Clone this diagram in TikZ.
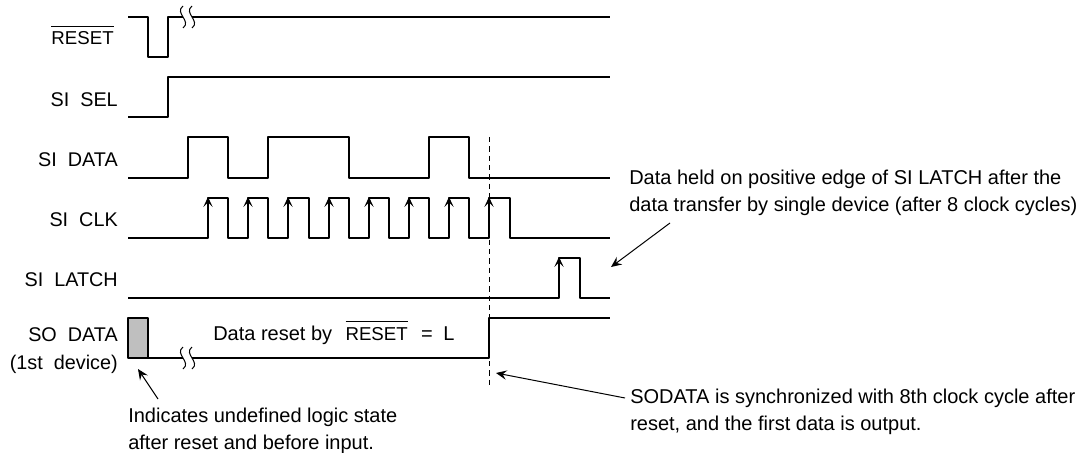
\documentclass[tikz,border=0pt]{standalone}
\usepackage{fontspec}
\setmainfont{Liberation Sans}
\usetikzlibrary{positioning, arrows.meta}
\newcommand{\resetbar}{$\overline{\mbox{\fontsize{14}{14}\selectfont\rule{0pt}{13pt}RESET}}$}
\tikzset{
x=0.75pt, y=-0.75pt,
wave/.style={line width=1.5pt, line join=round},
edge/.style={line width=1.5pt, -{Stealth[length=7.5pt, width=7pt, inset=3.5pt]}},
pointer/.style={line width=0.75pt, -{Stealth[length=8pt, width=7pt, inset=3pt]}},
breakmark/.style={line width=0.75pt},
label/.style={anchor=east, font=\fontsize{14.85}{21}\selectfont, inner sep=0pt, align=right},
note/.style={anchor=west, font=\fontsize{15}{20.5}\selectfont, inner sep=0pt, align=left},
}
\begin{document}
\begin{tikzpicture}
    \useasboundingbox (0,0) rectangle (1086,453);
    % signal names
    \node[label, anchor=base east] (reset) at (114,45) {\resetbar};
    \node[label] (sisel) at (118,100) {SI\ \ SEL};
    \node[label] (sidata) at (118,160) {SI\ \ DATA};
    \node[label] (siclk) at (118,220) {SI\ \ CLK};
    \node[label] (silatch) at (118,280) {SI\ \ LATCH};
    \node[label] (sodata) at (118,351) {SO\ \ DATA\\(1st\ \ device)};
    % waveforms
    \draw[wave] (128,17) -- (148,17) -- (148,57) -- (168,57) -- (168,17) -- (610,17);
    \draw[wave] (128,117) -- (168,117) -- (168,77) -- (610,77);
    \draw[wave] (128,178) -- (188,178) -- (188,137) -- (228,137) -- (228,178) -- (268,178) -- (268,137) -- (349,137) -- (349,178) -- (429,178) -- (429,137) -- (469,137) -- (469,178) -- (610,178);
    \draw[wave] (128,238) -- (208,238) -- (208,198) -- (228,198) -- (228,238) -- (248,238) -- (248,198) -- (268,198) -- (268,238) -- (288,238) -- (288,198) -- (309,198) -- (309,238) -- (329,238) -- (329,198) -- (349,198) -- (349,238) -- (369,238) -- (369,198) -- (389,198) -- (389,238) -- (409,238) -- (409,198) -- (429,198) -- (429,238) -- (449,238) -- (449,198) -- (469,198) -- (469,238) -- (489,238) -- (489,198) -- (510,198) -- (510,238) -- (610,238);
    \draw[wave] (128,298) -- (559,298) -- (559,258) -- (580,258) -- (580,298) -- (610,298);
    \draw[wave, fill=gray!50] (128,318) rectangle (148,358);
    \draw[wave] (148,358) -- (489,358) -- (489,318) -- (610,318);
    % clock edges
    \foreach \x in {208,248,288,329,369,409,449,489}
        \draw[edge] (\x,215) -- (\x,197);
    \draw[edge] (559,275) -- (559,257);
    % breaks
    \foreach \y in {17,358} {
        \fill[white] (183,\y-3) rectangle (192,\y+3);
        \foreach \x in {183,192}
            \draw[breakmark] (\x,\y-11) .. controls (\x-9,\y-4) and (\x+9,\y+4) .. (\x,\y+11);
    }
    % reference line
    \draw[dashed, dash pattern=on 4pt off 3pt, line width=0.75pt] (489,137) -- (489,388);
    % notes
    \node[note, anchor=base west] (reset note) at (213,340) {Data reset by\hspace{10pt}\resetbar\hspace{10pt}=\hspace{8pt}L};
    \node[note] (hold note) at (629,193) {Data held on positive edge of SI LATCH after the\\data transfer by single device (after 8 clock cycles)};
    \node[note] (sync note) at (630,412) {SODATA is synchronized with 8th clock cycle after\\reset, and the first data is output.};
    \node[note] (undef note) at (128,431) {Indicates undefined logic state\\after reset and before input.};
    % pointers
    \coordinate (undef tip) at (138,369);
    \coordinate (hold tip) at (611,267);
    \coordinate (sync tip) at (496,373);
    \draw[pointer] (158,399) -- (undef tip);
    \draw[pointer] (670,223) -- (hold tip);
    \draw[pointer] (625,398) -- (sync tip);
\end{tikzpicture}
\end{document}
